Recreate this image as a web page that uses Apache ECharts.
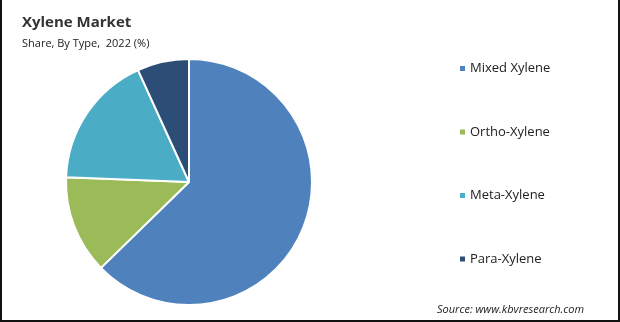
<!DOCTYPE html>
<html><head><meta charset="utf-8">
<script src="https://cdn.jsdelivr.net/npm/echarts@6/dist/echarts.min.js"></script>
<style>
html,body{margin:0;padding:0;background:#fff;}
#c{width:620px;height:322px;position:relative;}
#bl{position:absolute;left:0;top:0;width:2px;height:322px;background:#111;}
#br{position:absolute;left:618px;top:0;width:2px;height:322px;background:#111;}
#bb{position:absolute;left:0;top:320px;width:620px;height:2px;background:#111;}
</style></head>
<body>
<div id="c"></div>
<div id="bl"></div><div id="br"></div><div id="bb"></div>
<script>
const categories = ['Mixed Xylene', 'Ortho-Xylene', 'Meta-Xylene', 'Para-Xylene'];
const shares = [62.7, 12.9, 17.6, 6.8];
const colors = ['#4F81BD', '#9BBB59', '#4BACC6', '#2C4D75'];

const chart = echarts.init(document.getElementById('c'), null, {renderer: 'canvas'});
chart.setOption({
  animation: false,
  backgroundColor: '#fff',
  title: [
    {text: 'Xylene Market', left: 17, top: 10,
     textStyle: {fontFamily: 'Open Sans', fontSize: 15, fontWeight: 'bold', color: '#333'}},
    {text: 'Share, By Type,  2022 (%)', left: 17, top: 33,
     textStyle: {fontFamily: 'Open Sans', fontSize: 11, fontWeight: 'normal', color: '#222'}},
    {text: 'Source: www.kbvresearch.com', left: 432, top: 299,
     textStyle: {fontFamily: 'Open Sans', fontSize: 11, fontStyle: 'italic', fontWeight: 'normal', color: '#222'}}
  ],
  legend: {
    orient: 'vertical',
    left: 453, top: 57,
    itemWidth: 7, itemHeight: 7,
    itemGap: 50.5,
    icon: 'rect',
    textStyle: {fontFamily: 'Open Sans', fontSize: 13, color: '#222', padding: [0,0,0,-1]},
    data: categories
  },
  series: [{
    type: 'pie',
    center: [189, 182],
    radius: 123,
    startAngle: 90,
    clockwise: true,
    label: {show: false},
    labelLine: {show: false},
    emphasis: {disabled: true},
    itemStyle: {borderColor: '#fff', borderWidth: 2},
    data: categories.map((n, i) => ({name: n, value: shares[i], itemStyle: {color: colors[i]}}))
  }]
});
</script>
</body></html>
